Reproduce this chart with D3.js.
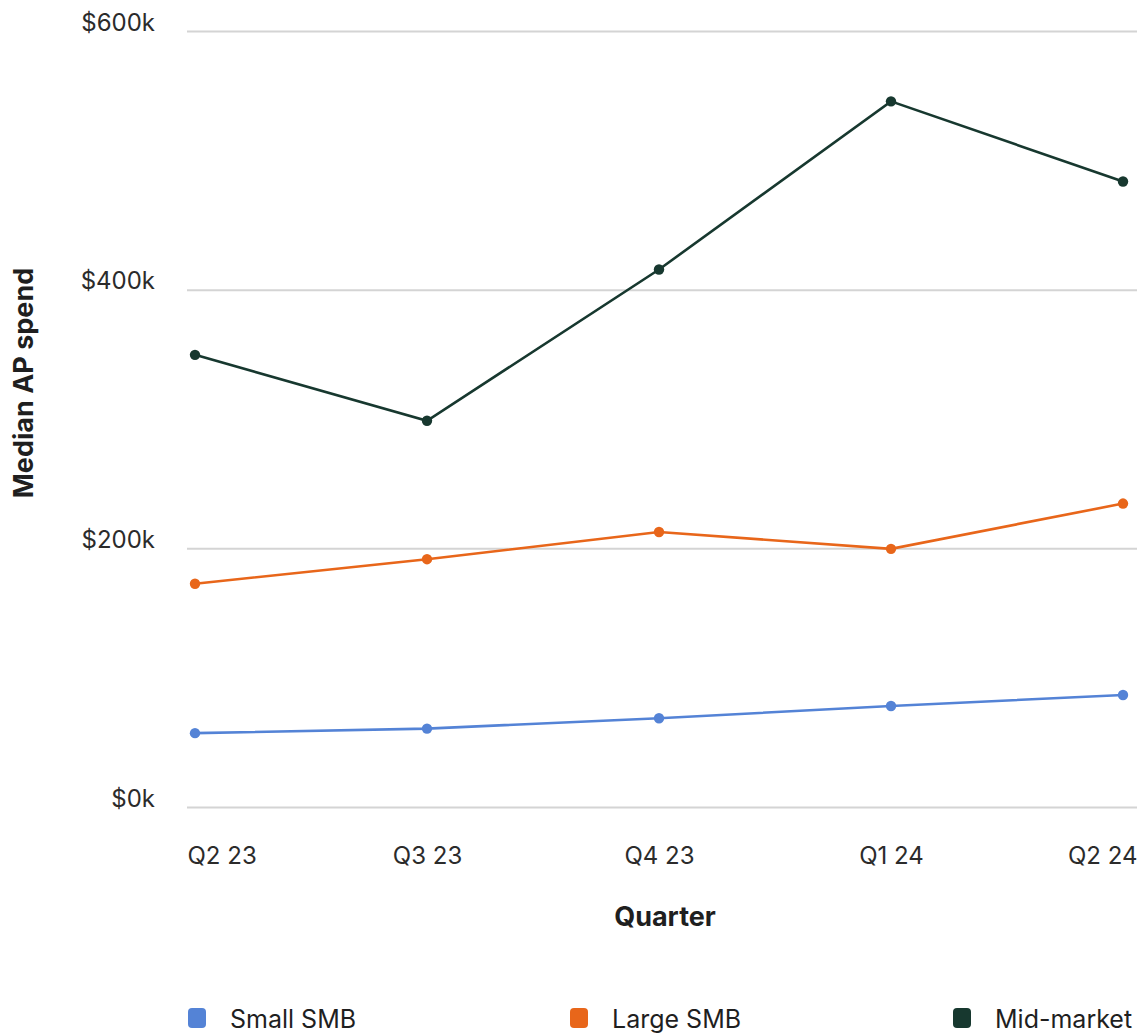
<!DOCTYPE html>
<html>
<head>
<meta charset="utf-8">
<script src="https://cdn.jsdelivr.net/npm/d3@7"></script>
<style>
  html, body { margin: 0; padding: 0; background: #fff; }
  svg { display: block; font-family: Inter, "Noto Sans", sans-serif; }
</style>
</head>
<body>
<svg id="chart" width="1144" height="1035"></svg>
<script>
// Quarterly median AP spend, in thousands of dollars
const quarters = ["Q2 23", "Q3 23", "Q4 23", "Q1 24", "Q2 24"];
const smallSMB = [57.5, 61, 69, 78.5, 87];
const largeSMB = [173, 192, 213, 200, 235];
const midMarket = [350, 299, 416, 546, 484];
const yTicks = [0, 200, 400, 600];

const seriesNames = ["Small SMB", "Large SMB", "Mid-market"];
const seriesValues = [smallSMB, largeSMB, midMarket];
const seriesColors = ["#5483d6", "#e8661a", "#17382f"];

const svg = d3.select("#chart");
const gridLeft = 187, gridRight = 1137;

const x = d3.scalePoint().domain(quarters).range([195, 1123]);
const y = d3.scaleLinear().domain([0, 600]).range([807.5, 31.5]);

// horizontal gridlines
svg.append("g")
  .selectAll("line")
  .data(yTicks)
  .join("line")
  .attr("x1", gridLeft).attr("x2", gridRight)
  .attr("y1", d => y(d)).attr("y2", d => y(d))
  .attr("stroke", "#d4d4d4").attr("stroke-width", 2);

// y axis labels, baseline sitting just above each gridline
const yAxis = d3.axisLeft(y).tickValues(yTicks).tickSize(0).tickPadding(0)
  .tickFormat(d => "$" + d + "k");
svg.append("g")
  .attr("transform", "translate(155,0)")
  .call(yAxis)
  .call(g => g.select(".domain").remove())
  .call(g => g.selectAll("text")
    .attr("font-family", "Inter, sans-serif")
    .attr("font-size", 24)
    .attr("fill", "#2b2b2b")
    .attr("dy", "-0.06em"));

// x axis labels
const xAxis = d3.axisBottom(x).tickSize(0).tickPadding(0);
svg.append("g")
  .attr("transform", "translate(0,0)")
  .call(xAxis)
  .call(g => g.select(".domain").remove())
  .call(g => g.selectAll("text")
    .attr("font-family", "Inter, sans-serif")
    .attr("font-size", 24)
    .attr("fill", "#2b2b2b")
    .attr("y", 864)
    .attr("dy", 0)
    .attr("text-anchor", (d, i) => i === 0 ? "start" : (i === quarters.length - 1 ? "end" : "middle"))
    .attr("dx", (d, i) => i === 0 ? -8 : (i === quarters.length - 1 ? 14 : 0)));

// axis titles
svg.append("text")
  .attr("x", 665).attr("y", 926)
  .attr("text-anchor", "middle")
  .attr("font-size", 27).attr("font-weight", 700)
  .attr("fill", "#1f1f1f")
  .text("Quarter");

svg.append("text")
  .attr("transform", "translate(33,383) rotate(-90)")
  .attr("text-anchor", "middle")
  .attr("font-size", 27).attr("font-weight", 700)
  .attr("fill", "#1f1f1f")
  .text("Median AP spend");

// series lines and markers
const line = d3.line().x((d, i) => x(quarters[i])).y(d => y(d));
seriesValues.forEach((vals, s) => {
  const g = svg.append("g");
  g.append("path")
    .datum(vals)
    .attr("d", line)
    .attr("fill", "none")
    .attr("stroke", seriesColors[s])
    .attr("stroke-width", 2.6);
  g.selectAll("circle")
    .data(vals)
    .join("circle")
    .attr("cx", (d, i) => x(quarters[i]))
    .attr("cy", d => y(d))
    .attr("r", 5.2)
    .attr("fill", seriesColors[s]);
});

// legend
const legendX = [188, 570, 953];
const legend = svg.append("g")
  .selectAll("g")
  .data(seriesNames)
  .join("g")
  .attr("transform", (d, i) => `translate(${legendX[i]},1008)`);
legend.append("rect")
  .attr("width", 18).attr("height", 20).attr("rx", 4)
  .attr("fill", (d, i) => seriesColors[i]);
legend.append("text")
  .attr("x", 42).attr("y", 20)
  .attr("font-size", 25)
  .attr("fill", "#1f1f1f")
  .text(d => d);
</script>
</body>
</html>
